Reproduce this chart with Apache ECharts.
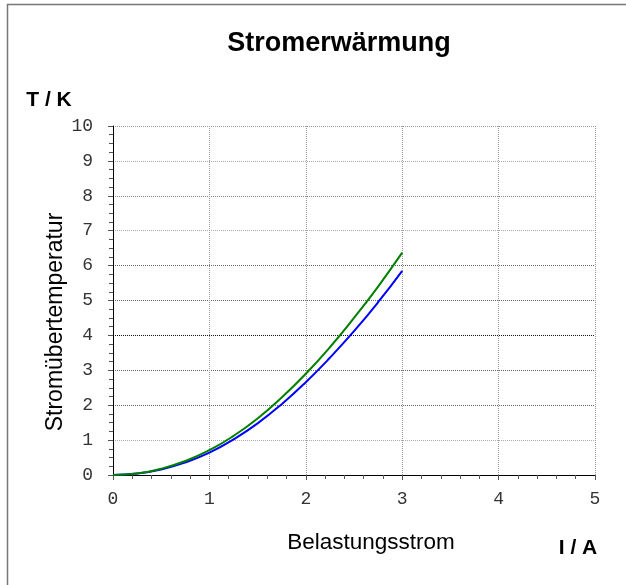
<!DOCTYPE html>
<html>
<head>
<meta charset="utf-8">
<script src="https://cdn.jsdelivr.net/npm/echarts@6/dist/echarts.min.js"></script>
<style>
  html, body { margin: 0; padding: 0; background: #fff; }
  #box01 { width: 626px; height: 585px; }
</style>
</head>
<body>
<div id="box01"></div>
<script>
// Belastungsstrom I / A
var currents = [0, 0.25, 0.5, 0.75, 1, 1.25, 1.5, 1.75, 2, 2.25, 2.5, 2.75, 3];
// Stromübertemperatur T / K (green curve, upper)
var tempGreen = [0, 0.04, 0.18, 0.40, 0.71, 1.12, 1.62, 2.22, 2.90, 3.66, 4.50, 5.40, 6.37];
// Stromübertemperatur T / K (blue curve, lower)
var tempBlue = [0, 0.04, 0.16, 0.36, 0.64, 1.02, 1.48, 2.03, 2.66, 3.36, 4.12, 4.95, 5.85];
var xTicks = [0, 1, 2, 3, 4, 5];
var yTicks = [0, 1, 2, 3, 4, 5, 6, 7, 8, 9, 10];

function pairs(xs, ys) {
    var out = [];
    for (var i = 0; i < xs.length; i++) {
        out.push([xs[i], ys[i]]);
    }
    return out;
}

var myChart = echarts.init(document.getElementById('box01'));

var monoLabel = {
    fontFamily: 'Liberation Mono',
    fontSize: 18,
    color: '#333'
};

var option = {
    animation: false,
    backgroundColor: '#fff',
    grid: {
        left: 113,
        right: 31,
        top: 126,
        bottom: 110
    },
    xAxis: {
        type: 'value',
        min: xTicks[0],
        max: xTicks[xTicks.length - 1],
        interval: 1,
        axisLine: { lineStyle: { color: '#000', width: 1 } },
        axisTick: { show: true, length: 5, lineStyle: { color: '#555' } },
        minorTick: { show: true, splitNumber: 5, length: 4, lineStyle: { color: '#555' } },
        axisLabel: Object.assign({ margin: 15 }, monoLabel),
        splitLine: {
            show: true,
            lineStyle: { color: '#999', type: [1, 1], width: 1 }
        }
    },
    yAxis: {
        type: 'value',
        min: yTicks[0],
        max: yTicks[yTicks.length - 1],
        interval: 1,
        axisLine: { show: true, lineStyle: { color: '#000', width: 1 } },
        axisTick: { show: true, length: 5, lineStyle: { color: '#555' } },
        minorTick: { show: true, splitNumber: 4, length: 4, lineStyle: { color: '#555' } },
        axisLabel: Object.assign({ margin: 20 }, monoLabel),
        splitLine: {
            show: true,
            lineStyle: {
                color: ['#000', '#aaa', '#666', '#666', '#111', '#666', '#666', '#aaa', '#888', '#aaa', '#999'],
                type: [1, 1],
                width: 1
            }
        }
    },
    graphic: [
        // Rahmen
        { type: 'line', shape: { x1: 7.5, y1: 4, x2: 7.5, y2: 585 }, style: { stroke: '#777', lineWidth: 1.5 } },
        { type: 'line', shape: { x1: 7, y1: 4.5, x2: 626, y2: 4.5 }, style: { stroke: '#777', lineWidth: 1.5 } },
        // Texte
        { type: 'text', x: 339, y: 44, style: { text: 'Stromerwärmung', fontFamily: 'Liberation Sans', fontSize: 27, fontWeight: 'bold', fill: '#000', align: 'center', verticalAlign: 'middle' } },
        { type: 'text', x: 49, y: 100, style: { text: 'T / K', fontFamily: 'Liberation Sans', fontSize: 21, fontWeight: 'bold', fill: '#000', align: 'center', verticalAlign: 'middle' } },
        { type: 'text', x: 578, y: 548, style: { text: 'I / A', fontFamily: 'Liberation Sans', fontSize: 21, fontWeight: 'bold', fill: '#000', align: 'center', verticalAlign: 'middle' } },
        { type: 'text', x: 371, y: 543, style: { text: 'Belastungsstrom', fontFamily: 'Liberation Sans', fontSize: 22.5, fill: '#000', align: 'center', verticalAlign: 'middle' } },
        { type: 'text', x: 56, y: 322, rotation: Math.PI / 2, style: { text: 'Stromübertemperatur', fontFamily: 'Liberation Sans', fontSize: 23, fill: '#000', align: 'center', verticalAlign: 'middle' } }
    ],
    series: [
        {
            name: 'blau',
            type: 'line',
            smooth: true,
            showSymbol: false,
            data: pairs(currents, tempBlue),
            lineStyle: { color: '#0000ff', width: 2 }
        },
        {
            name: 'grün',
            type: 'line',
            smooth: true,
            showSymbol: false,
            data: pairs(currents, tempGreen),
            lineStyle: { color: '#008000', width: 2 }
        }
    ]
};

myChart.setOption(option);
</script>
</body>
</html>
